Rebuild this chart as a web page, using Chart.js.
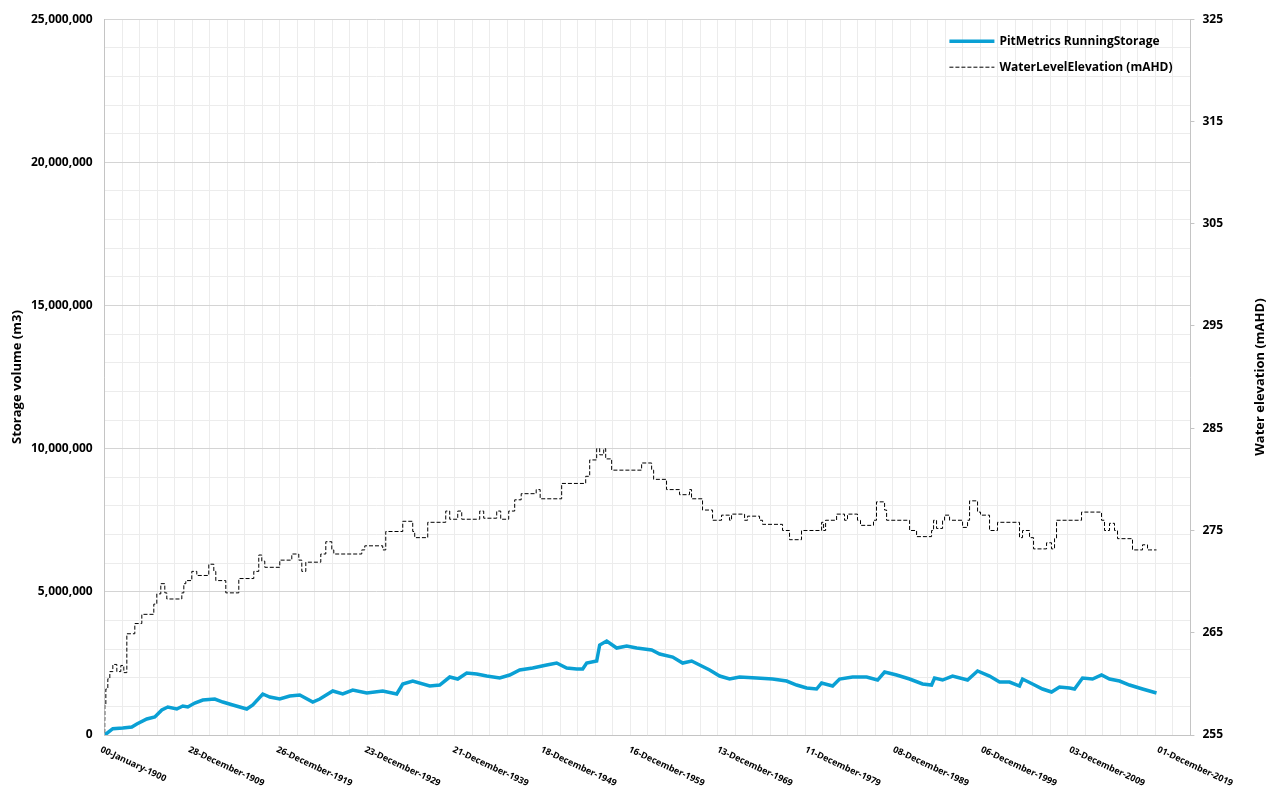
<!DOCTYPE html>
<html>
<head>
<meta charset="utf-8">
<title>Pit storage and water level</title>
<script src="https://cdn.jsdelivr.net/npm/chart.js@4.4.1/dist/chart.umd.min.js"></script>
<style>
  body { margin: 0; background: #fff; }
  #wrap { width: 1267px; height: 790px; position: relative; }
</style>
</head>
<body>
<div id="wrap"><canvas id="chart"></canvas></div>
<script>
// x values are Excel serial days (0 = "00-January-1900")
var storageDays = [
  0, 336, 750, 1123, 1330, 1744, 2076, 2366, 2614, 2987,
  3236, 3443, 3733, 4065, 4562, 4894, 5308, 5888, 6137, 6551,
  6841, 7255, 7670, 8084, 8623, 8913, 9452, 9866, 10280, 10860,
  11523, 12103, 12352, 12766, 13471, 13885, 14299, 14631, 15004, 15418,
  15832, 16371, 16785, 17199, 17738, 18318, 18732, 19147, 19561, 19810,
  19976, 20390, 20515, 20805, 21219, 21634, 22048, 22670, 23001, 23540,
  23954, 24327, 24658, 25073, 25487, 25901, 26316, 27020, 27683, 28263,
  28677, 29092, 29506, 29713, 30169, 30459, 30998, 31578, 32034, 32324,
  32821, 33360, 33898, 34271, 34395, 34727, 35141, 35763, 36177, 36674,
  37089, 37503, 37917, 38042, 38456, 38871, 39244, 39575, 39990, 40197,
  40528, 40943, 41316, 41647, 42062, 42476, 43015, 43594
];
var storageM3 = [
  0, 220000, 244000, 279000, 384000, 559000, 628000, 873000, 977000, 908000,
  1012000, 977000, 1117000, 1222000, 1257000, 1152000, 1047000, 908000, 1047000, 1432000,
  1327000, 1257000, 1362000, 1397000, 1152000, 1257000, 1536000, 1432000, 1571000, 1466000,
  1536000, 1432000, 1781000, 1885000, 1711000, 1746000, 2025000, 1955000, 2165000, 2130000,
  2060000, 1990000, 2095000, 2270000, 2339000, 2444000, 2514000, 2339000, 2304000, 2304000,
  2514000, 2584000, 3142000, 3282000, 3038000, 3108000, 3038000, 2968000, 2828000, 2723000,
  2514000, 2584000, 2444000, 2270000, 2060000, 1955000, 2025000, 1990000, 1955000, 1885000,
  1746000, 1641000, 1606000, 1816000, 1711000, 1955000, 2025000, 2025000, 1920000, 2200000,
  2095000, 1955000, 1781000, 1746000, 1990000, 1920000, 2060000, 1920000, 2235000, 2060000,
  1851000, 1851000, 1711000, 1955000, 1781000, 1606000, 1501000, 1676000, 1641000, 1606000,
  1990000, 1955000, 2095000, 1955000, 1885000, 1746000, 1606000, 1466000
];

var levelDays = [
  0, 4, 46, 128, 211, 336, 501, 667, 791, 916,
  1247, 1537, 2034, 2159, 2324, 2490, 2573, 3195, 3278, 3360,
  3609, 3816, 4313, 4521, 4604, 5018, 5557, 6178, 6385, 6510,
  6634, 7256, 7753, 8043, 8168, 8334, 8955, 9163, 9411, 9494,
  10653, 10778, 11523, 11648, 12352, 12766, 12849, 13388, 14134, 14299,
  14631, 14797, 15542, 15708, 16247, 16413, 16744, 16992, 17262, 17883,
  18048, 18939, 19935, 20101, 20390, 20515, 20681, 20764, 21011, 22253,
  22668, 22751, 23286, 23825, 24239, 24322, 24778, 25193, 25566, 25898,
  25981, 26520, 26644, 27141, 27266, 28094, 28384, 28881, 29713, 29796,
  29879, 30335, 30663, 30787, 31201, 31326, 31864, 31989, 32324, 32407,
  33360, 33650, 34271, 34354, 34478, 34727, 34810, 35017, 35556, 35763,
  35846, 36177, 36301, 36674, 37005, 37917, 38042, 38332, 38498, 39037,
  39244, 39368, 39451, 40487, 41316, 41440, 41647, 41854, 41979, 42600,
  43015, 43222, 43305, 43594
];
var levelMAHD = [
  255.2, 256.5, 258.0, 259.5, 260.5, 261.2, 261.9, 261.2, 261.8, 261.1,
  264.9, 265.9, 266.8, 267.8, 268.8, 269.8, 268.9, 268.3, 268.9, 269.8,
  270.1, 271.0, 270.6, 271.7, 271.0, 270.1, 268.9, 270.3, 271.0, 272.6,
  272.0, 271.4, 272.1, 272.7, 272.1, 271.0, 271.9, 272.7, 273.9, 273.1,
  272.7, 273.1, 273.5, 273.1, 274.9, 275.9, 274.9, 274.3, 275.8, 276.9,
  276.1, 276.9, 276.1, 276.9, 276.2, 276.9, 276.1, 276.9, 278.0, 278.6,
  279.0, 278.1, 279.6, 280.3, 281.9, 283.0, 282.4, 283.0, 282.0, 280.9,
  281.6, 280.9, 280.0, 279.0, 278.5, 279.0, 278.1, 277.0, 276.0, 276.5,
  276.0, 276.6, 276.0, 276.4, 276.0, 275.6, 275.0, 274.1, 275.0, 275.8,
  275.0, 276.0, 276.6, 276.0, 276.6, 276.0, 275.5, 276.0, 277.8, 277.0,
  276.0, 275.0, 274.4, 275.0, 276.0, 275.2, 276.0, 276.5, 276.0, 275.3,
  276.0, 277.9, 276.8, 276.5, 275.0, 275.8, 274.3, 275.0, 274.3, 273.2,
  273.8, 273.2, 274.2, 276.0, 276.8, 276.0, 275.0, 275.7, 275.0, 274.2,
  273.1, 273.6, 273.1, 273.1
];

var xTickDays = [0, 3650, 7300, 10950, 14600, 18250, 21900, 25550, 29200, 32850, 36500, 40150, 43800];
var xTickLabels = [
  '00-January-1900', '28-December-1909', '26-December-1919', '23-December-1929',
  '21-December-1939', '18-December-1949', '16-December-1959', '13-December-1969',
  '11-December-1979', '08-December-1989', '06-December-1999', '03-December-2009',
  '01-December-2019'
];

var MAJOR = '#d4d4d4', MINOR = '#ececec', AXIS = '#c4c4c4';
var FONT = "'Open Sans', sans-serif";
Chart.defaults.font.family = FONT;
Chart.defaults.color = '#000';

function pairs(xs, ys) {
  return xs.map(function (x, i) { return { x: x, y: ys[i] }; });
}

// rotated date labels under the x axis (Chart.js only rotates the other way)
var xLabelsPlugin = {
  id: 'xLabels',
  afterDraw: function (chart) {
    var ctx = chart.ctx, sx = chart.scales.x, bottom = chart.chartArea.bottom;
    ctx.save();
    ctx.font = 'bold 9px ' + FONT;
    ctx.fillStyle = '#000';
    ctx.textAlign = 'left';
    ctx.textBaseline = 'top';
    xTickDays.forEach(function (d, i) {
      ctx.save();
      ctx.translate(sx.getPixelForValue(d) - 2, bottom + 10);
      ctx.rotate(25 * Math.PI / 180);
      ctx.fillText(xTickLabels[i], 0, 0);
      ctx.restore();
    });
    ctx.restore();
  }
};

// both axis titles read bottom-to-top
var axisTitlesPlugin = {
  id: 'axisTitles',
  afterDraw: function (chart) {
    var ctx = chart.ctx, a = chart.chartArea, mid = (a.top + a.bottom) / 2;
    ctx.save();
    ctx.font = 'bold 13px ' + FONT;
    ctx.fillStyle = '#000';
    ctx.textAlign = 'center';
    ctx.textBaseline = 'middle';
    [[17, 'Storage volume (m3)'], [chart.width - 7, 'Water elevation (mAHD)']].forEach(function (t) {
      ctx.save();
      ctx.translate(t[0], mid);
      ctx.rotate(-Math.PI / 2);
      ctx.fillText(t[1], 0, 0);
      ctx.restore();
    });
    ctx.restore();
  }
};

// legend sits inside the plot, top right
var legendPlugin = {
  id: 'innerLegend',
  afterDraw: function (chart) {
    var ctx = chart.ctx, a = chart.chartArea;
    var x0 = a.right - 241, y0 = a.top + 22;
    ctx.save();
    ctx.font = 'bold 12px ' + FONT;
    ctx.textBaseline = 'middle';
    ctx.textAlign = 'left';
    chart.data.datasets.forEach(function (ds, i) {
      var y = y0 + i * 26;
      ctx.beginPath();
      ctx.strokeStyle = ds.borderColor;
      ctx.lineWidth = ds.borderWidth;
      ctx.setLineDash(ds.borderDash || []);
      ctx.moveTo(x0, y);
      ctx.lineTo(x0 + 45, y);
      ctx.stroke();
      ctx.setLineDash([]);
      ctx.fillStyle = '#000';
      ctx.fillText(ds.label, x0 + 50, y);
    });
    ctx.restore();
  }
};

new Chart(document.getElementById('chart'), {
  type: 'line',
  data: {
    datasets: [
      {
        label: 'PitMetrics RunningStorage',
        data: pairs(storageDays, storageM3),
        yAxisID: 'y',
        borderColor: '#0aa0d4',
        borderWidth: 3.5,
        pointRadius: 0,
        tension: 0
      },
      {
        label: 'WaterLevelElevation (mAHD)',
        data: pairs(levelDays, levelMAHD),
        yAxisID: 'y2',
        borderColor: '#000',
        borderWidth: 1,
        borderDash: [4, 2],
        stepped: 'after',
        pointRadius: 0
      }
    ]
  },
  options: {
    responsive: true,
    maintainAspectRatio: false,
    animation: false,
    layout: { padding: { top: 10, left: 19, right: 36, bottom: 55 } },
    plugins: {
      legend: { display: false },
      tooltip: { enabled: false }
    },
    scales: {
      x: {
        type: 'linear',
        min: 0,
        max: 45000,
        ticks: { stepSize: 730, includeBounds: false, display: false, autoSkip: false },
        grid: {
          drawTicks: false,
          color: function (c) { return c.tick && c.tick.value % 3650 === 0 ? MAJOR : MINOR; }
        },
        border: { display: true, color: AXIS }
      },
      y: {
        position: 'left',
        min: 0,
        max: 25000000,
        ticks: {
          stepSize: 1000000,
          autoSkip: false,
          padding: 12,
          font: { size: 12, weight: 'bold' },
          callback: function (v) { return v % 5000000 === 0 ? v.toLocaleString('en-US') : ''; }
        },
        grid: {
          drawTicks: false,
          color: function (c) { return c.tick && c.tick.value % 5000000 === 0 ? MAJOR : MINOR; }
        },
        border: { display: true, color: AXIS }
      },
      y2: {
        position: 'right',
        min: 255,
        max: 325,
        ticks: { stepSize: 10, padding: 8, font: { size: 12, weight: 'bold' } },
        grid: { drawOnChartArea: false, drawTicks: true, tickLength: 4, tickColor: AXIS },
        border: { display: true, color: AXIS }
      }
    }
  },
  plugins: [xLabelsPlugin, axisTitlesPlugin, legendPlugin]
});
</script>
</body>
</html>
